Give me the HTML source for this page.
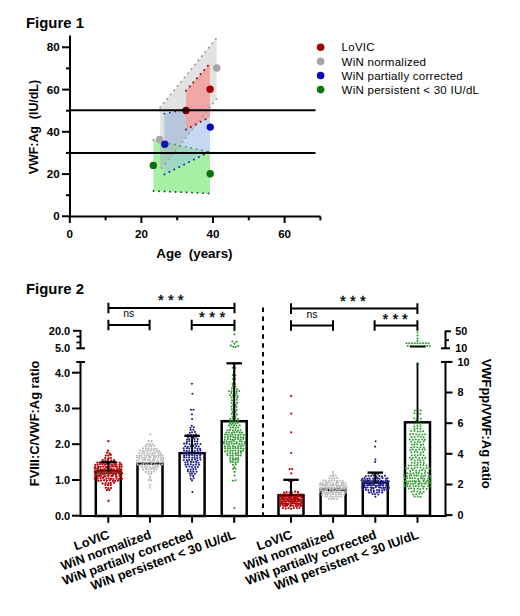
<!DOCTYPE html>
<html><head><meta charset="utf-8"><style>
html,body{margin:0;padding:0;background:#fff;}
svg{display:block;font-family:"Liberation Sans", sans-serif;}
</style></head><body>
<svg width="520" height="616" viewBox="0 0 520 616">
<rect width="520" height="616" fill="#fff"/>
<text x="26" y="28.2" font-size="14.9" font-weight="bold">Figure 1</text>
<polygon points="160.2,107.4 216.6,38 216.6,99 160.2,170" fill="#e2e2e2"/>
<polygon points="164.4,113.7 210,104.5 210,151.5 164.4,174.4" fill="#c6d8f4"/>
<clipPath id="cg"><polygon points="160.2,107.4 216.6,38 216.6,99 160.2,170"/></clipPath>
<polygon clip-path="url(#cg)" points="164.4,113.7 210,104.5 210,151.5 164.4,174.4" fill="#b8c6dc"/>
<line x1="164.4" y1="113.7" x2="210" y2="104.5" stroke="#1a2a8a" stroke-width="1.8" stroke-linecap="round" stroke-dasharray="0.1 5.4"/>
<polygon points="186,90.7 209.9,63.5 209.9,117 186,129.5" fill="#f5a0a0" fill-opacity="0.9"/>
<clipPath id="cb"><polygon points="164.4,113.7 210,104.5 210,151.5 164.4,174.4"/></clipPath>
<polygon points="153.5,139.9 210,152 210,193.4 153.5,191" fill="#a6f0a6"/>
<polygon clip-path="url(#cb)" points="153.5,139.9 210,152 210,193.4 153.5,191" fill="#9ed8c4"/>
<clipPath id="cg2"><polygon points="160.2,107.4 216.6,38 216.6,99 160.2,170"/></clipPath>
<polygon clip-path="url(#cg2)" points="153.5,139.9 210,152 210,193.4 153.5,191" fill="#a6c8b4" fill-opacity="0.8"/>
<line x1="160.2" y1="107.4" x2="216.6" y2="38" stroke="#959595" stroke-width="1.9" stroke-linecap="round" stroke-dasharray="0.1 5.4"/>
<line x1="216.6" y1="99" x2="160.2" y2="170" stroke="#a0a0a0" stroke-width="1.9" stroke-linecap="round" stroke-dasharray="0.1 5.4"/>
<line x1="186" y1="90.7" x2="209.9" y2="63.5" stroke="#7a1010" stroke-width="1.9" stroke-linecap="round" stroke-dasharray="0.1 5.4"/>
<line x1="186" y1="129.5" x2="209.9" y2="117" stroke="#7a1010" stroke-width="1.9" stroke-linecap="round" stroke-dasharray="0.1 5.4"/>
<line x1="164.4" y1="174.4" x2="210" y2="151.5" stroke="#1a2a8a" stroke-width="1.9" stroke-linecap="round" stroke-dasharray="0.1 5.4"/>
<line x1="153.5" y1="139.9" x2="210" y2="152" stroke="#6a8a6a" stroke-width="1.9" stroke-linecap="round" stroke-dasharray="0.1 5.4"/>
<line x1="153.5" y1="191" x2="210" y2="193.4" stroke="#1a5a1a" stroke-width="1.9" stroke-linecap="round" stroke-dasharray="0.1 5.4"/>
<circle cx="216.8" cy="68" r="3.7" fill="#a6a6a6"/>
<circle cx="159.5" cy="139.5" r="3.7" fill="#a6a6a6"/>
<circle cx="210.1" cy="89.2" r="3.7" fill="#a00000"/>
<circle cx="186" cy="110.5" r="3.7" fill="#7a0000"/>
<circle cx="164.8" cy="144.3" r="3.7" fill="#1414b4"/>
<circle cx="210.3" cy="127.1" r="3.7" fill="#0a0ab8"/>
<circle cx="153.3" cy="165.4" r="3.7" fill="#0a700a"/>
<circle cx="210.2" cy="173.8" r="3.7" fill="#0a700a"/>
<line x1="70" y1="110.3" x2="315.5" y2="110.3" stroke="#000" stroke-width="2"/>
<line x1="70" y1="153.1" x2="315.5" y2="153.1" stroke="#000" stroke-width="2"/>
<line x1="70" y1="35.4" x2="70" y2="217.3" stroke="#000" stroke-width="2"/>
<line x1="69" y1="216.5" x2="320.5" y2="216.5" stroke="#000" stroke-width="2"/>
<line x1="62" y1="216.3" x2="70" y2="216.3" stroke="#000" stroke-width="2"/>
<text x="59.6" y="220.4" font-size="11.6" font-weight="bold" text-anchor="end">0</text>
<line x1="66" y1="195.2" x2="70" y2="195.2" stroke="#000" stroke-width="2"/>
<line x1="62" y1="174.1" x2="70" y2="174.1" stroke="#000" stroke-width="2"/>
<text x="59.6" y="178.2" font-size="11.6" font-weight="bold" text-anchor="end">20</text>
<line x1="66" y1="152.9" x2="70" y2="152.9" stroke="#000" stroke-width="2"/>
<line x1="62" y1="131.8" x2="70" y2="131.8" stroke="#000" stroke-width="2"/>
<text x="59.6" y="135.9" font-size="11.6" font-weight="bold" text-anchor="end">40</text>
<line x1="66" y1="110.7" x2="70" y2="110.7" stroke="#000" stroke-width="2"/>
<line x1="62" y1="89.6" x2="70" y2="89.6" stroke="#000" stroke-width="2"/>
<text x="59.6" y="93.7" font-size="11.6" font-weight="bold" text-anchor="end">60</text>
<line x1="66" y1="68.4" x2="70" y2="68.4" stroke="#000" stroke-width="2"/>
<line x1="62" y1="47.3" x2="70" y2="47.3" stroke="#000" stroke-width="2"/>
<text x="59.6" y="51.4" font-size="11.6" font-weight="bold" text-anchor="end">80</text>
<line x1="69.8" y1="216.5" x2="69.8" y2="223" stroke="#000" stroke-width="2"/>
<text x="69.8" y="238.2" font-size="11.6" font-weight="bold" text-anchor="middle">0</text>
<line x1="105.6" y1="216.5" x2="105.6" y2="220.3" stroke="#000" stroke-width="2"/>
<line x1="141.4" y1="216.5" x2="141.4" y2="223" stroke="#000" stroke-width="2"/>
<text x="141.4" y="238.2" font-size="11.6" font-weight="bold" text-anchor="middle">20</text>
<line x1="177.2" y1="216.5" x2="177.2" y2="220.3" stroke="#000" stroke-width="2"/>
<line x1="213.0" y1="216.5" x2="213.0" y2="223" stroke="#000" stroke-width="2"/>
<text x="213.0" y="238.2" font-size="11.6" font-weight="bold" text-anchor="middle">40</text>
<line x1="248.8" y1="216.5" x2="248.8" y2="220.3" stroke="#000" stroke-width="2"/>
<line x1="284.6" y1="216.5" x2="284.6" y2="223" stroke="#000" stroke-width="2"/>
<text x="284.6" y="238.2" font-size="11.6" font-weight="bold" text-anchor="middle">60</text>
<line x1="320.4" y1="216.5" x2="320.4" y2="220.3" stroke="#000" stroke-width="2"/>
<text x="194.4" y="257.6" font-size="12.3" font-weight="bold" text-anchor="middle" textLength="76.2" lengthAdjust="spacingAndGlyphs" xml:space="preserve">Age  (years)</text>
<text transform="translate(38.3,127.1) rotate(-90)" font-size="12.2" font-weight="bold" text-anchor="middle" textLength="94.3" lengthAdjust="spacingAndGlyphs" xml:space="preserve">VWF:Ag  (IU/dL)</text>
<circle cx="320.6" cy="47.3" r="3.8" fill="#a00000"/>
<text x="341.6" y="51.4" font-size="11.5" letter-spacing="0.25">LoVIC</text>
<circle cx="320.6" cy="61.4" r="3.8" fill="#a6a6a6"/>
<text x="341.6" y="65.5" font-size="11.5" letter-spacing="0.25">WiN normalized</text>
<circle cx="320.6" cy="75.5" r="3.8" fill="#0a0ab8"/>
<text x="341.6" y="79.6" font-size="11.5" letter-spacing="0.25">WiN partially corrected</text>
<circle cx="320.6" cy="89.6" r="3.8" fill="#0a7a0a"/>
<text x="341.6" y="93.7" font-size="11.5" letter-spacing="0.25">WiN persistent &lt; 30 IU/dL</text>
<text x="26" y="293.8" font-size="14.9" font-weight="bold">Figure 2</text>
<line x1="263" y1="307.6" x2="263" y2="516" stroke="#000" stroke-width="2" stroke-dasharray="4.5 4.4"/>
<rect x="95.8" y="471.3" width="25.0" height="44.7" fill="none" stroke="#000" stroke-width="2.5"/>
<rect x="137.5" y="463.7" width="25.0" height="52.3" fill="none" stroke="#000" stroke-width="2.5"/>
<rect x="179.6" y="453.2" width="25.0" height="62.8" fill="none" stroke="#000" stroke-width="2.5"/>
<rect x="221.7" y="421.2" width="25.0" height="94.8" fill="none" stroke="#000" stroke-width="2.5"/>
<rect x="278.5" y="495.3" width="25.0" height="20.5" fill="none" stroke="#000" stroke-width="2.5"/>
<rect x="320.6" y="489.8" width="25.0" height="26.0" fill="none" stroke="#000" stroke-width="2.5"/>
<rect x="362.8" y="482.6" width="25.0" height="33.2" fill="none" stroke="#000" stroke-width="2.5"/>
<rect x="405.0" y="422.3" width="25.0" height="93.5" fill="none" stroke="#000" stroke-width="2.5"/>
<g fill="#b00808"><circle cx="108.3" cy="441.2" r="1.15"/><circle cx="108.1" cy="450.7" r="1.15"/><circle cx="107.0" cy="452.7" r="1.15"/><circle cx="109.6" cy="453.5" r="1.15"/><circle cx="105.8" cy="455.6" r="1.15"/><circle cx="108.4" cy="455.5" r="1.15"/><circle cx="110.8" cy="454.9" r="1.15"/><circle cx="105.2" cy="458.1" r="1.15"/><circle cx="108.4" cy="458.2" r="1.15"/><circle cx="110.8" cy="457.8" r="1.15"/><circle cx="102.7" cy="460.2" r="1.15"/><circle cx="105.4" cy="460.5" r="1.15"/><circle cx="108.0" cy="460.0" r="1.15"/><circle cx="111.3" cy="460.4" r="1.15"/><circle cx="114.1" cy="460.2" r="1.15"/><circle cx="97.3" cy="462.7" r="1.15"/><circle cx="99.8" cy="462.5" r="1.15"/><circle cx="103.0" cy="462.7" r="1.15"/><circle cx="105.4" cy="462.6" r="1.15"/><circle cx="108.6" cy="462.4" r="1.15"/><circle cx="111.2" cy="462.2" r="1.15"/><circle cx="114.0" cy="462.4" r="1.15"/><circle cx="116.4" cy="462.4" r="1.15"/><circle cx="119.8" cy="462.7" r="1.15"/><circle cx="95.3" cy="464.8" r="1.15"/><circle cx="97.6" cy="464.9" r="1.15"/><circle cx="100.0" cy="464.1" r="1.15"/><circle cx="102.4" cy="464.3" r="1.15"/><circle cx="104.9" cy="464.7" r="1.15"/><circle cx="107.1" cy="464.1" r="1.15"/><circle cx="109.6" cy="464.3" r="1.15"/><circle cx="112.1" cy="464.8" r="1.15"/><circle cx="114.6" cy="464.4" r="1.15"/><circle cx="116.3" cy="464.5" r="1.15"/><circle cx="119.6" cy="465.0" r="1.15"/><circle cx="121.3" cy="464.4" r="1.15"/><circle cx="95.0" cy="467.2" r="1.15"/><circle cx="97.8" cy="467.4" r="1.15"/><circle cx="98.7" cy="466.9" r="1.15"/><circle cx="100.8" cy="466.8" r="1.15"/><circle cx="103.4" cy="466.7" r="1.15"/><circle cx="106.1" cy="466.9" r="1.15"/><circle cx="106.4" cy="467.3" r="1.15"/><circle cx="109.2" cy="467.0" r="1.15"/><circle cx="111.5" cy="466.4" r="1.15"/><circle cx="113.0" cy="466.4" r="1.15"/><circle cx="115.2" cy="466.5" r="1.15"/><circle cx="117.1" cy="466.8" r="1.15"/><circle cx="119.6" cy="467.2" r="1.15"/><circle cx="121.8" cy="466.6" r="1.15"/><circle cx="94.9" cy="468.7" r="1.15"/><circle cx="97.3" cy="468.9" r="1.15"/><circle cx="98.4" cy="469.4" r="1.15"/><circle cx="100.7" cy="469.5" r="1.15"/><circle cx="102.5" cy="469.6" r="1.15"/><circle cx="104.2" cy="469.4" r="1.15"/><circle cx="105.4" cy="469.3" r="1.15"/><circle cx="107.6" cy="469.3" r="1.15"/><circle cx="109.8" cy="469.6" r="1.15"/><circle cx="111.1" cy="468.9" r="1.15"/><circle cx="113.2" cy="469.3" r="1.15"/><circle cx="114.2" cy="469.6" r="1.15"/><circle cx="117.0" cy="469.2" r="1.15"/><circle cx="117.8" cy="469.6" r="1.15"/><circle cx="119.6" cy="468.8" r="1.15"/><circle cx="121.3" cy="469.5" r="1.15"/><circle cx="94.7" cy="471.8" r="1.15"/><circle cx="97.0" cy="471.2" r="1.15"/><circle cx="98.8" cy="471.1" r="1.15"/><circle cx="99.9" cy="471.7" r="1.15"/><circle cx="102.3" cy="471.9" r="1.15"/><circle cx="104.0" cy="471.1" r="1.15"/><circle cx="104.9" cy="471.3" r="1.15"/><circle cx="107.0" cy="471.5" r="1.15"/><circle cx="108.6" cy="471.3" r="1.15"/><circle cx="110.3" cy="471.9" r="1.15"/><circle cx="111.8" cy="472.0" r="1.15"/><circle cx="113.3" cy="471.2" r="1.15"/><circle cx="114.8" cy="471.6" r="1.15"/><circle cx="116.7" cy="471.5" r="1.15"/><circle cx="118.3" cy="471.6" r="1.15"/><circle cx="119.9" cy="471.1" r="1.15"/><circle cx="121.2" cy="472.0" r="1.15"/><circle cx="95.3" cy="473.8" r="1.15"/><circle cx="96.6" cy="474.1" r="1.15"/><circle cx="98.8" cy="473.6" r="1.15"/><circle cx="100.1" cy="474.2" r="1.15"/><circle cx="101.9" cy="473.3" r="1.15"/><circle cx="102.9" cy="474.0" r="1.15"/><circle cx="104.8" cy="473.9" r="1.15"/><circle cx="106.7" cy="473.4" r="1.15"/><circle cx="108.0" cy="473.5" r="1.15"/><circle cx="109.9" cy="473.7" r="1.15"/><circle cx="111.5" cy="473.5" r="1.15"/><circle cx="113.1" cy="473.9" r="1.15"/><circle cx="115.2" cy="473.9" r="1.15"/><circle cx="116.4" cy="474.0" r="1.15"/><circle cx="118.8" cy="473.6" r="1.15"/><circle cx="120.1" cy="473.5" r="1.15"/><circle cx="122.1" cy="473.4" r="1.15"/><circle cx="95.4" cy="475.9" r="1.15"/><circle cx="97.4" cy="476.0" r="1.15"/><circle cx="99.1" cy="476.0" r="1.15"/><circle cx="100.9" cy="475.8" r="1.15"/><circle cx="103.9" cy="476.6" r="1.15"/><circle cx="105.0" cy="476.4" r="1.15"/><circle cx="107.5" cy="475.8" r="1.15"/><circle cx="108.5" cy="475.6" r="1.15"/><circle cx="111.4" cy="476.2" r="1.15"/><circle cx="112.7" cy="475.8" r="1.15"/><circle cx="116.1" cy="476.5" r="1.15"/><circle cx="116.5" cy="476.6" r="1.15"/><circle cx="119.6" cy="475.9" r="1.15"/><circle cx="121.3" cy="476.0" r="1.15"/><circle cx="94.8" cy="478.6" r="1.15"/><circle cx="97.8" cy="478.4" r="1.15"/><circle cx="100.6" cy="478.1" r="1.15"/><circle cx="102.9" cy="477.9" r="1.15"/><circle cx="106.3" cy="478.6" r="1.15"/><circle cx="108.7" cy="478.3" r="1.15"/><circle cx="111.0" cy="478.9" r="1.15"/><circle cx="113.4" cy="478.8" r="1.15"/><circle cx="116.6" cy="478.7" r="1.15"/><circle cx="119.1" cy="478.8" r="1.15"/><circle cx="121.8" cy="478.7" r="1.15"/><circle cx="98.4" cy="480.9" r="1.15"/><circle cx="101.0" cy="480.5" r="1.15"/><circle cx="104.1" cy="480.2" r="1.15"/><circle cx="106.8" cy="480.8" r="1.15"/><circle cx="109.8" cy="480.4" r="1.15"/><circle cx="112.8" cy="480.9" r="1.15"/><circle cx="115.2" cy="480.9" r="1.15"/><circle cx="118.1" cy="480.7" r="1.15"/><circle cx="102.6" cy="483.5" r="1.15"/><circle cx="105.6" cy="483.2" r="1.15"/><circle cx="108.5" cy="483.5" r="1.15"/><circle cx="110.8" cy="483.1" r="1.15"/><circle cx="114.1" cy="482.8" r="1.15"/><circle cx="105.4" cy="484.9" r="1.15"/><circle cx="108.1" cy="485.2" r="1.15"/><circle cx="110.8" cy="485.1" r="1.15"/><circle cx="105.8" cy="487.7" r="1.15"/><circle cx="108.3" cy="488.1" r="1.15"/><circle cx="111.1" cy="488.1" r="1.15"/><circle cx="107.0" cy="490.2" r="1.15"/><circle cx="109.4" cy="490.0" r="1.15"/><circle cx="108.5" cy="500.9" r="1.15"/></g>
<g fill="#bababa"><circle cx="150.3" cy="434.6" r="1.1"/><circle cx="148.6" cy="441.2" r="1.1"/><circle cx="151.6" cy="441.2" r="1.1"/><circle cx="147.0" cy="444.0" r="1.1"/><circle cx="150.0" cy="444.1" r="1.1"/><circle cx="152.6" cy="444.2" r="1.1"/><circle cx="145.7" cy="445.9" r="1.1"/><circle cx="148.8" cy="445.8" r="1.1"/><circle cx="151.2" cy="446.4" r="1.1"/><circle cx="154.2" cy="446.0" r="1.1"/><circle cx="143.0" cy="448.4" r="1.1"/><circle cx="146.1" cy="448.4" r="1.1"/><circle cx="148.4" cy="448.7" r="1.1"/><circle cx="151.4" cy="448.9" r="1.1"/><circle cx="154.4" cy="448.9" r="1.1"/><circle cx="156.7" cy="448.8" r="1.1"/><circle cx="140.4" cy="450.6" r="1.1"/><circle cx="143.2" cy="451.2" r="1.1"/><circle cx="146.2" cy="450.5" r="1.1"/><circle cx="148.6" cy="450.7" r="1.1"/><circle cx="151.3" cy="450.7" r="1.1"/><circle cx="154.0" cy="450.5" r="1.1"/><circle cx="156.8" cy="451.1" r="1.1"/><circle cx="159.5" cy="451.1" r="1.1"/><circle cx="139.2" cy="452.8" r="1.1"/><circle cx="142.1" cy="453.5" r="1.1"/><circle cx="144.4" cy="452.6" r="1.1"/><circle cx="147.3" cy="453.1" r="1.1"/><circle cx="150.0" cy="453.6" r="1.1"/><circle cx="152.8" cy="453.4" r="1.1"/><circle cx="155.1" cy="453.1" r="1.1"/><circle cx="158.3" cy="452.7" r="1.1"/><circle cx="160.5" cy="453.3" r="1.1"/><circle cx="136.8" cy="455.5" r="1.1"/><circle cx="139.4" cy="455.5" r="1.1"/><circle cx="141.2" cy="455.7" r="1.1"/><circle cx="144.4" cy="455.3" r="1.1"/><circle cx="146.9" cy="455.6" r="1.1"/><circle cx="148.9" cy="455.6" r="1.1"/><circle cx="151.8" cy="455.3" r="1.1"/><circle cx="154.0" cy="455.8" r="1.1"/><circle cx="156.5" cy="455.8" r="1.1"/><circle cx="158.8" cy="455.4" r="1.1"/><circle cx="161.1" cy="455.3" r="1.1"/><circle cx="162.5" cy="455.6" r="1.1"/><circle cx="137.2" cy="457.4" r="1.1"/><circle cx="139.1" cy="457.5" r="1.1"/><circle cx="141.5" cy="457.5" r="1.1"/><circle cx="144.0" cy="458.0" r="1.1"/><circle cx="145.7" cy="457.7" r="1.1"/><circle cx="149.4" cy="457.2" r="1.1"/><circle cx="150.5" cy="457.4" r="1.1"/><circle cx="153.6" cy="457.8" r="1.1"/><circle cx="155.3" cy="457.5" r="1.1"/><circle cx="158.4" cy="457.5" r="1.1"/><circle cx="161.1" cy="457.7" r="1.1"/><circle cx="163.3" cy="458.1" r="1.1"/><circle cx="136.9" cy="460.5" r="1.1"/><circle cx="139.3" cy="459.5" r="1.1"/><circle cx="142.9" cy="459.9" r="1.1"/><circle cx="144.8" cy="459.8" r="1.1"/><circle cx="147.9" cy="459.7" r="1.1"/><circle cx="149.6" cy="459.9" r="1.1"/><circle cx="153.1" cy="460.1" r="1.1"/><circle cx="154.5" cy="459.8" r="1.1"/><circle cx="158.1" cy="460.0" r="1.1"/><circle cx="161.1" cy="459.8" r="1.1"/><circle cx="162.6" cy="460.3" r="1.1"/><circle cx="137.0" cy="462.6" r="1.1"/><circle cx="139.3" cy="462.1" r="1.1"/><circle cx="141.9" cy="462.3" r="1.1"/><circle cx="145.3" cy="462.4" r="1.1"/><circle cx="147.4" cy="462.6" r="1.1"/><circle cx="150.4" cy="461.9" r="1.1"/><circle cx="152.5" cy="462.3" r="1.1"/><circle cx="154.8" cy="462.6" r="1.1"/><circle cx="157.4" cy="461.9" r="1.1"/><circle cx="160.2" cy="462.5" r="1.1"/><circle cx="163.1" cy="461.9" r="1.1"/><circle cx="137.8" cy="464.6" r="1.1"/><circle cx="140.9" cy="464.9" r="1.1"/><circle cx="143.4" cy="464.1" r="1.1"/><circle cx="145.9" cy="464.8" r="1.1"/><circle cx="148.5" cy="464.7" r="1.1"/><circle cx="151.3" cy="464.1" r="1.1"/><circle cx="154.4" cy="464.9" r="1.1"/><circle cx="156.5" cy="464.7" r="1.1"/><circle cx="159.3" cy="464.5" r="1.1"/><circle cx="162.2" cy="464.4" r="1.1"/><circle cx="141.8" cy="466.8" r="1.1"/><circle cx="144.7" cy="466.7" r="1.1"/><circle cx="147.1" cy="467.1" r="1.1"/><circle cx="149.9" cy="467.3" r="1.1"/><circle cx="152.7" cy="467.1" r="1.1"/><circle cx="155.3" cy="467.2" r="1.1"/><circle cx="157.8" cy="466.5" r="1.1"/><circle cx="143.0" cy="469.4" r="1.1"/><circle cx="146.1" cy="468.9" r="1.1"/><circle cx="148.6" cy="469.5" r="1.1"/><circle cx="151.4" cy="468.8" r="1.1"/><circle cx="153.9" cy="468.9" r="1.1"/><circle cx="156.5" cy="469.1" r="1.1"/><circle cx="145.7" cy="471.9" r="1.1"/><circle cx="148.6" cy="471.5" r="1.1"/><circle cx="151.5" cy="471.8" r="1.1"/><circle cx="154.3" cy="471.4" r="1.1"/><circle cx="148.5" cy="473.7" r="1.1"/><circle cx="151.0" cy="473.7" r="1.1"/><circle cx="150.1" cy="476.6" r="1.1"/><circle cx="150.2" cy="478.6" r="1.1"/><circle cx="148.7" cy="480.2" r="1.1"/><circle cx="151.2" cy="480.5" r="1.1"/><circle cx="150.1" cy="484.9" r="1.1"/><circle cx="149.9" cy="487.6" r="1.1"/></g>
<g fill="#1c1c84"><circle cx="191.9" cy="383.7" r="1.05"/><circle cx="192.4" cy="393.8" r="1.05"/><circle cx="190.9" cy="409.8" r="1.05"/><circle cx="193.4" cy="409.7" r="1.05"/><circle cx="191.9" cy="414.2" r="1.05"/><circle cx="192.1" cy="419.0" r="1.05"/><circle cx="191.8" cy="425.8" r="1.05"/><circle cx="190.5" cy="427.8" r="1.05"/><circle cx="193.8" cy="427.3" r="1.05"/><circle cx="190.6" cy="429.9" r="1.05"/><circle cx="193.3" cy="429.7" r="1.05"/><circle cx="189.7" cy="432.7" r="1.05"/><circle cx="192.0" cy="432.3" r="1.05"/><circle cx="194.9" cy="431.9" r="1.05"/><circle cx="187.7" cy="435.1" r="1.05"/><circle cx="190.6" cy="434.7" r="1.05"/><circle cx="193.8" cy="435.2" r="1.05"/><circle cx="196.1" cy="434.4" r="1.05"/><circle cx="187.9" cy="437.4" r="1.05"/><circle cx="191.0" cy="436.7" r="1.05"/><circle cx="193.7" cy="436.9" r="1.05"/><circle cx="196.1" cy="436.7" r="1.05"/><circle cx="187.0" cy="439.8" r="1.05"/><circle cx="189.2" cy="439.4" r="1.05"/><circle cx="191.9" cy="439.7" r="1.05"/><circle cx="194.5" cy="438.9" r="1.05"/><circle cx="197.7" cy="439.1" r="1.05"/><circle cx="187.0" cy="442.0" r="1.05"/><circle cx="189.5" cy="441.2" r="1.05"/><circle cx="192.2" cy="442.0" r="1.05"/><circle cx="194.8" cy="441.2" r="1.05"/><circle cx="197.3" cy="441.4" r="1.05"/><circle cx="184.1" cy="443.6" r="1.05"/><circle cx="186.5" cy="443.6" r="1.05"/><circle cx="189.5" cy="444.2" r="1.05"/><circle cx="192.0" cy="444.1" r="1.05"/><circle cx="195.1" cy="444.0" r="1.05"/><circle cx="197.3" cy="443.7" r="1.05"/><circle cx="200.5" cy="444.1" r="1.05"/><circle cx="185.2" cy="446.3" r="1.05"/><circle cx="187.8" cy="446.7" r="1.05"/><circle cx="190.7" cy="446.2" r="1.05"/><circle cx="193.5" cy="445.7" r="1.05"/><circle cx="196.2" cy="446.0" r="1.05"/><circle cx="198.7" cy="446.5" r="1.05"/><circle cx="183.7" cy="448.3" r="1.05"/><circle cx="186.9" cy="448.2" r="1.05"/><circle cx="189.2" cy="448.5" r="1.05"/><circle cx="191.9" cy="448.9" r="1.05"/><circle cx="195.1" cy="448.0" r="1.05"/><circle cx="197.5" cy="448.8" r="1.05"/><circle cx="200.1" cy="448.9" r="1.05"/><circle cx="184.0" cy="450.5" r="1.05"/><circle cx="186.7" cy="450.9" r="1.05"/><circle cx="189.3" cy="451.0" r="1.05"/><circle cx="192.3" cy="450.8" r="1.05"/><circle cx="194.8" cy="451.1" r="1.05"/><circle cx="197.6" cy="450.8" r="1.05"/><circle cx="200.5" cy="450.5" r="1.05"/><circle cx="182.8" cy="452.8" r="1.05"/><circle cx="185.4" cy="452.8" r="1.05"/><circle cx="188.0" cy="453.4" r="1.05"/><circle cx="191.0" cy="453.4" r="1.05"/><circle cx="193.3" cy="453.1" r="1.05"/><circle cx="196.0" cy="453.2" r="1.05"/><circle cx="198.8" cy="452.6" r="1.05"/><circle cx="201.6" cy="453.3" r="1.05"/><circle cx="184.1" cy="455.8" r="1.05"/><circle cx="186.5" cy="455.1" r="1.05"/><circle cx="189.1" cy="455.4" r="1.05"/><circle cx="192.1" cy="455.3" r="1.05"/><circle cx="194.6" cy="455.7" r="1.05"/><circle cx="197.2" cy="455.8" r="1.05"/><circle cx="200.2" cy="455.4" r="1.05"/><circle cx="184.2" cy="457.4" r="1.05"/><circle cx="186.5" cy="457.5" r="1.05"/><circle cx="189.1" cy="457.5" r="1.05"/><circle cx="192.2" cy="457.7" r="1.05"/><circle cx="194.6" cy="457.8" r="1.05"/><circle cx="197.2" cy="458.0" r="1.05"/><circle cx="200.0" cy="457.5" r="1.05"/><circle cx="183.8" cy="460.2" r="1.05"/><circle cx="186.9" cy="460.3" r="1.05"/><circle cx="189.1" cy="459.9" r="1.05"/><circle cx="192.0" cy="459.7" r="1.05"/><circle cx="195.1" cy="459.5" r="1.05"/><circle cx="197.5" cy="460.3" r="1.05"/><circle cx="200.5" cy="459.6" r="1.05"/><circle cx="185.3" cy="462.5" r="1.05"/><circle cx="187.7" cy="462.0" r="1.05"/><circle cx="191.0" cy="461.9" r="1.05"/><circle cx="193.4" cy="462.1" r="1.05"/><circle cx="196.1" cy="461.9" r="1.05"/><circle cx="198.5" cy="462.8" r="1.05"/><circle cx="185.5" cy="464.8" r="1.05"/><circle cx="187.9" cy="464.4" r="1.05"/><circle cx="190.8" cy="464.3" r="1.05"/><circle cx="193.4" cy="465.0" r="1.05"/><circle cx="196.1" cy="464.4" r="1.05"/><circle cx="199.2" cy="464.7" r="1.05"/><circle cx="186.4" cy="466.8" r="1.05"/><circle cx="189.5" cy="466.5" r="1.05"/><circle cx="192.0" cy="467.1" r="1.05"/><circle cx="195.1" cy="467.0" r="1.05"/><circle cx="197.8" cy="466.9" r="1.05"/><circle cx="188.0" cy="469.5" r="1.05"/><circle cx="190.7" cy="469.5" r="1.05"/><circle cx="193.3" cy="469.0" r="1.05"/><circle cx="195.9" cy="469.2" r="1.05"/><circle cx="187.8" cy="471.2" r="1.05"/><circle cx="190.6" cy="471.5" r="1.05"/><circle cx="193.3" cy="471.4" r="1.05"/><circle cx="196.5" cy="471.7" r="1.05"/><circle cx="189.7" cy="473.5" r="1.05"/><circle cx="192.0" cy="473.4" r="1.05"/><circle cx="194.9" cy="473.7" r="1.05"/><circle cx="190.6" cy="475.6" r="1.05"/><circle cx="193.2" cy="475.9" r="1.05"/><circle cx="190.7" cy="478.8" r="1.05"/><circle cx="193.6" cy="478.2" r="1.05"/><circle cx="192.0" cy="480.4" r="1.05"/><circle cx="192.4" cy="492.1" r="1.05"/></g>
<g fill="#2f9a2f"><circle cx="234.1" cy="365.9" r="1.05"/><circle cx="232.7" cy="367.7" r="1.05"/><circle cx="235.2" cy="368.1" r="1.05"/><circle cx="234.5" cy="370.8" r="1.05"/><circle cx="233.9" cy="372.8" r="1.05"/><circle cx="232.8" cy="375.0" r="1.05"/><circle cx="235.4" cy="375.3" r="1.05"/><circle cx="234.5" cy="376.7" r="1.05"/><circle cx="233.0" cy="379.1" r="1.05"/><circle cx="235.2" cy="379.3" r="1.05"/><circle cx="234.4" cy="382.3" r="1.05"/><circle cx="232.6" cy="383.9" r="1.05"/><circle cx="235.2" cy="384.1" r="1.05"/><circle cx="232.9" cy="386.3" r="1.05"/><circle cx="235.4" cy="386.7" r="1.05"/><circle cx="231.8" cy="388.5" r="1.05"/><circle cx="234.1" cy="388.8" r="1.05"/><circle cx="237.0" cy="389.2" r="1.05"/><circle cx="228.9" cy="391.2" r="1.05"/><circle cx="231.6" cy="391.3" r="1.05"/><circle cx="234.0" cy="390.7" r="1.05"/><circle cx="236.5" cy="391.4" r="1.05"/><circle cx="239.2" cy="391.0" r="1.05"/><circle cx="231.3" cy="393.1" r="1.05"/><circle cx="233.9" cy="393.4" r="1.05"/><circle cx="236.6" cy="393.4" r="1.05"/><circle cx="230.1" cy="395.3" r="1.05"/><circle cx="232.9" cy="395.5" r="1.05"/><circle cx="235.3" cy="395.2" r="1.05"/><circle cx="237.8" cy="396.0" r="1.05"/><circle cx="231.5" cy="397.5" r="1.05"/><circle cx="234.0" cy="397.9" r="1.05"/><circle cx="237.1" cy="397.6" r="1.05"/><circle cx="231.9" cy="400.2" r="1.05"/><circle cx="234.1" cy="400.5" r="1.05"/><circle cx="236.7" cy="399.8" r="1.05"/><circle cx="231.6" cy="402.7" r="1.05"/><circle cx="234.3" cy="402.3" r="1.05"/><circle cx="237.1" cy="402.9" r="1.05"/><circle cx="233.2" cy="404.7" r="1.05"/><circle cx="235.7" cy="405.0" r="1.05"/><circle cx="231.4" cy="406.6" r="1.05"/><circle cx="234.0" cy="406.7" r="1.05"/><circle cx="236.5" cy="407.0" r="1.05"/><circle cx="231.8" cy="409.2" r="1.05"/><circle cx="234.2" cy="408.9" r="1.05"/><circle cx="236.6" cy="409.9" r="1.05"/><circle cx="232.6" cy="411.7" r="1.05"/><circle cx="235.7" cy="412.0" r="1.05"/><circle cx="231.8" cy="413.9" r="1.05"/><circle cx="234.4" cy="414.3" r="1.05"/><circle cx="237.0" cy="414.5" r="1.05"/><circle cx="232.6" cy="416.8" r="1.05"/><circle cx="235.4" cy="416.5" r="1.05"/><circle cx="230.1" cy="419.0" r="1.05"/><circle cx="232.6" cy="418.7" r="1.05"/><circle cx="235.3" cy="418.5" r="1.05"/><circle cx="238.0" cy="418.8" r="1.05"/><circle cx="230.5" cy="420.8" r="1.05"/><circle cx="233.0" cy="420.8" r="1.05"/><circle cx="235.3" cy="421.3" r="1.05"/><circle cx="238.0" cy="420.5" r="1.05"/><circle cx="230.2" cy="423.4" r="1.05"/><circle cx="232.7" cy="423.4" r="1.05"/><circle cx="235.5" cy="423.4" r="1.05"/><circle cx="237.9" cy="422.8" r="1.05"/><circle cx="228.8" cy="425.4" r="1.05"/><circle cx="231.6" cy="425.0" r="1.05"/><circle cx="234.2" cy="425.4" r="1.05"/><circle cx="236.7" cy="425.5" r="1.05"/><circle cx="239.7" cy="425.2" r="1.05"/><circle cx="230.6" cy="427.6" r="1.05"/><circle cx="233.1" cy="427.4" r="1.05"/><circle cx="235.8" cy="427.7" r="1.05"/><circle cx="238.4" cy="427.5" r="1.05"/><circle cx="227.6" cy="430.3" r="1.05"/><circle cx="230.1" cy="429.9" r="1.05"/><circle cx="233.0" cy="430.5" r="1.05"/><circle cx="235.4" cy="429.8" r="1.05"/><circle cx="238.0" cy="430.6" r="1.05"/><circle cx="240.5" cy="430.2" r="1.05"/><circle cx="226.3" cy="432.5" r="1.05"/><circle cx="228.8" cy="432.5" r="1.05"/><circle cx="231.9" cy="432.8" r="1.05"/><circle cx="234.3" cy="432.4" r="1.05"/><circle cx="236.8" cy="432.0" r="1.05"/><circle cx="239.6" cy="432.6" r="1.05"/><circle cx="242.0" cy="432.6" r="1.05"/><circle cx="225.0" cy="434.6" r="1.05"/><circle cx="227.5" cy="434.8" r="1.05"/><circle cx="230.4" cy="434.7" r="1.05"/><circle cx="232.6" cy="434.8" r="1.05"/><circle cx="235.5" cy="434.8" r="1.05"/><circle cx="238.2" cy="435.1" r="1.05"/><circle cx="240.5" cy="434.7" r="1.05"/><circle cx="243.6" cy="434.9" r="1.05"/><circle cx="225.0" cy="437.2" r="1.05"/><circle cx="228.0" cy="436.9" r="1.05"/><circle cx="230.6" cy="436.6" r="1.05"/><circle cx="233.2" cy="437.0" r="1.05"/><circle cx="235.3" cy="437.3" r="1.05"/><circle cx="238.2" cy="437.4" r="1.05"/><circle cx="240.9" cy="437.3" r="1.05"/><circle cx="243.3" cy="437.5" r="1.05"/><circle cx="224.8" cy="439.7" r="1.05"/><circle cx="227.8" cy="439.1" r="1.05"/><circle cx="230.5" cy="439.3" r="1.05"/><circle cx="232.9" cy="439.7" r="1.05"/><circle cx="235.3" cy="439.1" r="1.05"/><circle cx="238.2" cy="438.9" r="1.05"/><circle cx="240.7" cy="439.6" r="1.05"/><circle cx="243.3" cy="439.0" r="1.05"/><circle cx="224.0" cy="442.0" r="1.05"/><circle cx="226.6" cy="441.6" r="1.05"/><circle cx="229.3" cy="441.9" r="1.05"/><circle cx="231.4" cy="441.5" r="1.05"/><circle cx="233.9" cy="441.1" r="1.05"/><circle cx="236.7" cy="442.0" r="1.05"/><circle cx="239.6" cy="441.2" r="1.05"/><circle cx="241.8" cy="441.5" r="1.05"/><circle cx="244.8" cy="441.7" r="1.05"/><circle cx="224.1" cy="443.5" r="1.05"/><circle cx="226.7" cy="443.6" r="1.05"/><circle cx="229.1" cy="444.3" r="1.05"/><circle cx="231.8" cy="443.6" r="1.05"/><circle cx="234.3" cy="443.8" r="1.05"/><circle cx="236.5" cy="443.7" r="1.05"/><circle cx="239.3" cy="444.0" r="1.05"/><circle cx="241.8" cy="444.0" r="1.05"/><circle cx="244.7" cy="443.6" r="1.05"/><circle cx="224.8" cy="446.4" r="1.05"/><circle cx="227.7" cy="445.8" r="1.05"/><circle cx="230.0" cy="446.6" r="1.05"/><circle cx="233.0" cy="446.1" r="1.05"/><circle cx="235.3" cy="446.7" r="1.05"/><circle cx="238.2" cy="446.4" r="1.05"/><circle cx="240.6" cy="446.0" r="1.05"/><circle cx="243.2" cy="445.8" r="1.05"/><circle cx="225.2" cy="448.4" r="1.05"/><circle cx="227.9" cy="448.4" r="1.05"/><circle cx="230.3" cy="448.5" r="1.05"/><circle cx="233.2" cy="448.3" r="1.05"/><circle cx="235.6" cy="448.2" r="1.05"/><circle cx="238.2" cy="448.3" r="1.05"/><circle cx="241.0" cy="448.3" r="1.05"/><circle cx="243.5" cy="448.7" r="1.05"/><circle cx="225.1" cy="451.2" r="1.05"/><circle cx="227.6" cy="451.0" r="1.05"/><circle cx="230.4" cy="450.7" r="1.05"/><circle cx="232.6" cy="450.7" r="1.05"/><circle cx="235.3" cy="450.7" r="1.05"/><circle cx="238.4" cy="450.6" r="1.05"/><circle cx="240.8" cy="451.0" r="1.05"/><circle cx="243.1" cy="450.7" r="1.05"/><circle cx="227.4" cy="453.5" r="1.05"/><circle cx="230.1" cy="453.0" r="1.05"/><circle cx="232.8" cy="453.4" r="1.05"/><circle cx="235.7" cy="453.2" r="1.05"/><circle cx="238.1" cy="452.7" r="1.05"/><circle cx="241.0" cy="452.7" r="1.05"/><circle cx="227.6" cy="455.3" r="1.05"/><circle cx="230.5" cy="455.6" r="1.05"/><circle cx="232.8" cy="455.8" r="1.05"/><circle cx="235.8" cy="454.9" r="1.05"/><circle cx="238.2" cy="455.4" r="1.05"/><circle cx="240.6" cy="455.4" r="1.05"/><circle cx="230.2" cy="457.9" r="1.05"/><circle cx="233.0" cy="458.2" r="1.05"/><circle cx="235.8" cy="458.2" r="1.05"/><circle cx="238.0" cy="458.0" r="1.05"/><circle cx="230.4" cy="460.2" r="1.05"/><circle cx="233.2" cy="459.6" r="1.05"/><circle cx="235.5" cy="459.9" r="1.05"/><circle cx="238.2" cy="459.7" r="1.05"/><circle cx="230.6" cy="462.0" r="1.05"/><circle cx="232.8" cy="461.9" r="1.05"/><circle cx="235.4" cy="462.5" r="1.05"/><circle cx="237.8" cy="462.0" r="1.05"/><circle cx="233.0" cy="464.7" r="1.05"/><circle cx="235.7" cy="464.4" r="1.05"/><circle cx="234.4" cy="467.1" r="1.05"/><circle cx="233.1" cy="468.8" r="1.05"/><circle cx="235.5" cy="468.7" r="1.05"/><circle cx="234.5" cy="471.9" r="1.05"/><circle cx="234.5" cy="475.6" r="1.05"/><circle cx="232.8" cy="480.7" r="1.05"/><circle cx="235.5" cy="480.3" r="1.05"/><circle cx="234.4" cy="508.1" r="1.05"/></g>
<g fill="#2f9a2f"><circle cx="232.3" cy="341.5" r="1.1"/><circle cx="234.4" cy="343.6" r="1.1"/><circle cx="236.6" cy="341.8" r="1.1"/><circle cx="230.8" cy="345.5" r="1.1"/><circle cx="238.2" cy="346" r="1.1"/><circle cx="233.3" cy="346.8" r="1.1"/><circle cx="235.6" cy="347" r="1.1"/><circle cx="234.4" cy="334.3" r="1.1"/><circle cx="234.3" cy="330.6" r="1.1"/></g>
<g fill="#b00808"><circle cx="291.1" cy="396.1" r="1.1"/><circle cx="291.3" cy="413.6" r="1.1"/><circle cx="291.2" cy="432.3" r="1.1"/><circle cx="291.2" cy="453.0" r="1.1"/><circle cx="289.6" cy="469.1" r="1.1"/><circle cx="292.1" cy="469.0" r="1.1"/><circle cx="291.2" cy="473.4" r="1.1"/><circle cx="289.3" cy="481.0" r="1.1"/><circle cx="292.5" cy="480.7" r="1.1"/><circle cx="290.7" cy="487.2" r="1.1"/><circle cx="290.9" cy="490.4" r="1.1"/><circle cx="284.0" cy="492.6" r="1.1"/><circle cx="286.6" cy="492.1" r="1.1"/><circle cx="289.6" cy="492.5" r="1.1"/><circle cx="292.1" cy="492.6" r="1.1"/><circle cx="295.2" cy="491.7" r="1.1"/><circle cx="298.0" cy="492.1" r="1.1"/><circle cx="280.6" cy="494.5" r="1.1"/><circle cx="282.4" cy="494.8" r="1.1"/><circle cx="284.9" cy="494.2" r="1.1"/><circle cx="287.0" cy="494.3" r="1.1"/><circle cx="289.4" cy="494.6" r="1.1"/><circle cx="292.1" cy="494.6" r="1.1"/><circle cx="294.7" cy="494.6" r="1.1"/><circle cx="297.7" cy="494.3" r="1.1"/><circle cx="299.4" cy="494.3" r="1.1"/><circle cx="302.3" cy="494.3" r="1.1"/><circle cx="280.1" cy="496.7" r="1.1"/><circle cx="281.3" cy="496.9" r="1.1"/><circle cx="283.1" cy="497.2" r="1.1"/><circle cx="283.6" cy="496.5" r="1.1"/><circle cx="284.6" cy="496.6" r="1.1"/><circle cx="285.8" cy="497.0" r="1.1"/><circle cx="287.4" cy="496.6" r="1.1"/><circle cx="288.9" cy="497.1" r="1.1"/><circle cx="289.5" cy="497.1" r="1.1"/><circle cx="290.4" cy="496.8" r="1.1"/><circle cx="291.8" cy="497.1" r="1.1"/><circle cx="294.0" cy="497.2" r="1.1"/><circle cx="294.6" cy="497.3" r="1.1"/><circle cx="295.8" cy="497.2" r="1.1"/><circle cx="297.0" cy="496.5" r="1.1"/><circle cx="298.0" cy="496.6" r="1.1"/><circle cx="299.1" cy="496.4" r="1.1"/><circle cx="300.5" cy="496.6" r="1.1"/><circle cx="301.9" cy="497.2" r="1.1"/><circle cx="280.2" cy="499.5" r="1.1"/><circle cx="281.1" cy="499.3" r="1.1"/><circle cx="282.1" cy="499.5" r="1.1"/><circle cx="282.8" cy="498.7" r="1.1"/><circle cx="284.0" cy="499.4" r="1.1"/><circle cx="284.5" cy="499.0" r="1.1"/><circle cx="286.4" cy="499.1" r="1.1"/><circle cx="286.6" cy="498.8" r="1.1"/><circle cx="287.5" cy="499.5" r="1.1"/><circle cx="288.2" cy="499.5" r="1.1"/><circle cx="289.4" cy="498.7" r="1.1"/><circle cx="290.6" cy="499.5" r="1.1"/><circle cx="291.4" cy="498.7" r="1.1"/><circle cx="292.2" cy="499.6" r="1.1"/><circle cx="293.9" cy="499.4" r="1.1"/><circle cx="293.9" cy="499.1" r="1.1"/><circle cx="295.1" cy="499.0" r="1.1"/><circle cx="295.9" cy="499.3" r="1.1"/><circle cx="297.1" cy="498.7" r="1.1"/><circle cx="298.2" cy="499.6" r="1.1"/><circle cx="298.7" cy="498.9" r="1.1"/><circle cx="300.2" cy="499.5" r="1.1"/><circle cx="301.9" cy="499.5" r="1.1"/><circle cx="302.8" cy="498.6" r="1.1"/><circle cx="280.1" cy="501.6" r="1.1"/><circle cx="281.2" cy="501.8" r="1.1"/><circle cx="281.6" cy="501.9" r="1.1"/><circle cx="282.1" cy="501.8" r="1.1"/><circle cx="283.6" cy="500.9" r="1.1"/><circle cx="285.2" cy="501.4" r="1.1"/><circle cx="286.1" cy="501.7" r="1.1"/><circle cx="285.8" cy="501.7" r="1.1"/><circle cx="288.4" cy="501.3" r="1.1"/><circle cx="288.3" cy="500.9" r="1.1"/><circle cx="289.5" cy="501.5" r="1.1"/><circle cx="290.3" cy="501.6" r="1.1"/><circle cx="291.1" cy="501.8" r="1.1"/><circle cx="291.8" cy="501.2" r="1.1"/><circle cx="293.7" cy="501.2" r="1.1"/><circle cx="294.3" cy="501.2" r="1.1"/><circle cx="295.0" cy="501.8" r="1.1"/><circle cx="295.7" cy="501.2" r="1.1"/><circle cx="297.4" cy="501.6" r="1.1"/><circle cx="298.4" cy="501.0" r="1.1"/><circle cx="299.0" cy="501.1" r="1.1"/><circle cx="300.6" cy="501.3" r="1.1"/><circle cx="301.4" cy="501.9" r="1.1"/><circle cx="301.5" cy="501.7" r="1.1"/><circle cx="280.0" cy="504.0" r="1.1"/><circle cx="280.8" cy="503.8" r="1.1"/><circle cx="282.3" cy="504.0" r="1.1"/><circle cx="283.0" cy="503.6" r="1.1"/><circle cx="284.6" cy="503.3" r="1.1"/><circle cx="285.7" cy="504.2" r="1.1"/><circle cx="286.7" cy="504.1" r="1.1"/><circle cx="287.7" cy="504.1" r="1.1"/><circle cx="288.1" cy="503.9" r="1.1"/><circle cx="290.4" cy="504.1" r="1.1"/><circle cx="290.8" cy="503.3" r="1.1"/><circle cx="292.5" cy="503.3" r="1.1"/><circle cx="292.8" cy="503.2" r="1.1"/><circle cx="293.8" cy="503.3" r="1.1"/><circle cx="295.5" cy="503.8" r="1.1"/><circle cx="296.7" cy="504.1" r="1.1"/><circle cx="297.0" cy="503.3" r="1.1"/><circle cx="298.9" cy="504.1" r="1.1"/><circle cx="299.4" cy="503.5" r="1.1"/><circle cx="300.7" cy="504.0" r="1.1"/><circle cx="302.3" cy="503.8" r="1.1"/><circle cx="280.2" cy="505.7" r="1.1"/><circle cx="282.9" cy="505.5" r="1.1"/><circle cx="284.1" cy="505.6" r="1.1"/><circle cx="285.4" cy="506.2" r="1.1"/><circle cx="287.2" cy="505.7" r="1.1"/><circle cx="290.2" cy="506.2" r="1.1"/><circle cx="291.6" cy="505.5" r="1.1"/><circle cx="293.3" cy="505.8" r="1.1"/><circle cx="295.9" cy="506.0" r="1.1"/><circle cx="297.9" cy="505.9" r="1.1"/><circle cx="300.4" cy="505.9" r="1.1"/><circle cx="302.0" cy="505.8" r="1.1"/><circle cx="282.9" cy="508.0" r="1.1"/><circle cx="285.7" cy="508.7" r="1.1"/><circle cx="288.5" cy="508.0" r="1.1"/><circle cx="291.0" cy="508.8" r="1.1"/><circle cx="293.7" cy="508.0" r="1.1"/><circle cx="296.8" cy="508.0" r="1.1"/><circle cx="299.5" cy="508.0" r="1.1"/></g>
<g fill="#bababa"><circle cx="333.0" cy="472.0" r="1.1"/><circle cx="333.2" cy="474.3" r="1.1"/><circle cx="330.6" cy="475.9" r="1.1"/><circle cx="332.9" cy="476.1" r="1.1"/><circle cx="335.8" cy="475.6" r="1.1"/><circle cx="329.3" cy="478.4" r="1.1"/><circle cx="331.7" cy="478.6" r="1.1"/><circle cx="334.3" cy="478.1" r="1.1"/><circle cx="337.2" cy="478.1" r="1.1"/><circle cx="323.5" cy="480.3" r="1.1"/><circle cx="326.0" cy="480.6" r="1.1"/><circle cx="329.1" cy="481.1" r="1.1"/><circle cx="331.8" cy="480.6" r="1.1"/><circle cx="334.4" cy="480.4" r="1.1"/><circle cx="337.1" cy="481.2" r="1.1"/><circle cx="339.6" cy="480.6" r="1.1"/><circle cx="342.7" cy="481.0" r="1.1"/><circle cx="320.3" cy="483.4" r="1.1"/><circle cx="322.7" cy="483.0" r="1.1"/><circle cx="325.7" cy="482.7" r="1.1"/><circle cx="327.6" cy="482.7" r="1.1"/><circle cx="330.3" cy="483.2" r="1.1"/><circle cx="333.0" cy="483.3" r="1.1"/><circle cx="336.1" cy="483.0" r="1.1"/><circle cx="337.8" cy="483.0" r="1.1"/><circle cx="341.7" cy="482.6" r="1.1"/><circle cx="342.9" cy="483.2" r="1.1"/><circle cx="345.6" cy="482.9" r="1.1"/><circle cx="320.4" cy="485.2" r="1.1"/><circle cx="322.4" cy="485.4" r="1.1"/><circle cx="324.0" cy="484.9" r="1.1"/><circle cx="325.8" cy="484.8" r="1.1"/><circle cx="327.7" cy="485.3" r="1.1"/><circle cx="330.4" cy="485.7" r="1.1"/><circle cx="332.2" cy="485.1" r="1.1"/><circle cx="334.0" cy="485.1" r="1.1"/><circle cx="336.3" cy="485.3" r="1.1"/><circle cx="337.9" cy="485.7" r="1.1"/><circle cx="340.3" cy="485.5" r="1.1"/><circle cx="341.9" cy="485.2" r="1.1"/><circle cx="343.8" cy="485.4" r="1.1"/><circle cx="345.8" cy="485.6" r="1.1"/><circle cx="320.0" cy="488.0" r="1.1"/><circle cx="321.8" cy="488.0" r="1.1"/><circle cx="324.5" cy="487.5" r="1.1"/><circle cx="326.1" cy="487.4" r="1.1"/><circle cx="328.2" cy="487.8" r="1.1"/><circle cx="329.4" cy="487.8" r="1.1"/><circle cx="331.4" cy="487.6" r="1.1"/><circle cx="333.2" cy="487.8" r="1.1"/><circle cx="334.5" cy="487.9" r="1.1"/><circle cx="336.8" cy="487.3" r="1.1"/><circle cx="339.2" cy="487.3" r="1.1"/><circle cx="340.3" cy="487.7" r="1.1"/><circle cx="343.0" cy="487.5" r="1.1"/><circle cx="344.6" cy="487.9" r="1.1"/><circle cx="346.4" cy="487.4" r="1.1"/><circle cx="320.3" cy="489.9" r="1.1"/><circle cx="321.9" cy="490.2" r="1.1"/><circle cx="324.0" cy="490.4" r="1.1"/><circle cx="325.6" cy="489.9" r="1.1"/><circle cx="327.1" cy="490.0" r="1.1"/><circle cx="329.9" cy="489.7" r="1.1"/><circle cx="331.4" cy="489.5" r="1.1"/><circle cx="333.1" cy="489.9" r="1.1"/><circle cx="335.4" cy="490.4" r="1.1"/><circle cx="337.0" cy="489.5" r="1.1"/><circle cx="338.8" cy="490.1" r="1.1"/><circle cx="340.6" cy="489.7" r="1.1"/><circle cx="342.3" cy="489.4" r="1.1"/><circle cx="344.3" cy="489.5" r="1.1"/><circle cx="346.4" cy="490.3" r="1.1"/><circle cx="319.5" cy="491.8" r="1.1"/><circle cx="322.3" cy="492.4" r="1.1"/><circle cx="324.3" cy="492.4" r="1.1"/><circle cx="326.7" cy="492.6" r="1.1"/><circle cx="328.8" cy="492.4" r="1.1"/><circle cx="331.3" cy="491.9" r="1.1"/><circle cx="332.9" cy="492.1" r="1.1"/><circle cx="335.6" cy="492.3" r="1.1"/><circle cx="337.4" cy="491.9" r="1.1"/><circle cx="339.3" cy="492.7" r="1.1"/><circle cx="341.6" cy="492.1" r="1.1"/><circle cx="344.7" cy="492.4" r="1.1"/><circle cx="345.7" cy="492.4" r="1.1"/><circle cx="322.1" cy="494.9" r="1.1"/><circle cx="325.3" cy="494.2" r="1.1"/><circle cx="327.6" cy="494.2" r="1.1"/><circle cx="330.6" cy="494.0" r="1.1"/><circle cx="333.2" cy="494.1" r="1.1"/><circle cx="336.0" cy="494.5" r="1.1"/><circle cx="338.6" cy="494.1" r="1.1"/><circle cx="340.9" cy="494.4" r="1.1"/><circle cx="344.2" cy="494.6" r="1.1"/><circle cx="325.3" cy="496.4" r="1.1"/><circle cx="327.4" cy="496.3" r="1.1"/><circle cx="330.5" cy="496.5" r="1.1"/><circle cx="332.9" cy="497.0" r="1.1"/><circle cx="335.9" cy="496.6" r="1.1"/><circle cx="338.5" cy="496.6" r="1.1"/><circle cx="341.2" cy="496.7" r="1.1"/><circle cx="329.0" cy="498.8" r="1.1"/><circle cx="331.6" cy="498.9" r="1.1"/><circle cx="334.1" cy="498.9" r="1.1"/><circle cx="337.2" cy="498.9" r="1.1"/></g>
<g fill="#1c1c84"><circle cx="375.6" cy="441.3" r="1.05"/><circle cx="375.1" cy="446.6" r="1.05"/><circle cx="375.4" cy="459.6" r="1.05"/><circle cx="375.1" cy="462.0" r="1.05"/><circle cx="372.5" cy="474.1" r="1.05"/><circle cx="375.4" cy="474.3" r="1.05"/><circle cx="378.1" cy="473.9" r="1.05"/><circle cx="365.8" cy="476.3" r="1.05"/><circle cx="368.5" cy="475.7" r="1.05"/><circle cx="371.2" cy="476.0" r="1.05"/><circle cx="374.0" cy="475.6" r="1.05"/><circle cx="376.3" cy="476.6" r="1.05"/><circle cx="379.3" cy="475.9" r="1.05"/><circle cx="381.8" cy="476.2" r="1.05"/><circle cx="385.0" cy="475.8" r="1.05"/><circle cx="362.3" cy="478.7" r="1.05"/><circle cx="364.6" cy="478.1" r="1.05"/><circle cx="367.2" cy="478.8" r="1.05"/><circle cx="369.4" cy="478.4" r="1.05"/><circle cx="373.1" cy="478.6" r="1.05"/><circle cx="375.7" cy="478.0" r="1.05"/><circle cx="377.7" cy="478.1" r="1.05"/><circle cx="379.6" cy="478.8" r="1.05"/><circle cx="382.5" cy="477.9" r="1.05"/><circle cx="386.1" cy="478.8" r="1.05"/><circle cx="387.5" cy="478.2" r="1.05"/><circle cx="361.6" cy="480.4" r="1.05"/><circle cx="363.6" cy="480.4" r="1.05"/><circle cx="365.4" cy="480.3" r="1.05"/><circle cx="367.2" cy="480.6" r="1.05"/><circle cx="368.2" cy="480.8" r="1.05"/><circle cx="370.0" cy="480.2" r="1.05"/><circle cx="372.4" cy="480.6" r="1.05"/><circle cx="374.2" cy="480.3" r="1.05"/><circle cx="375.5" cy="480.6" r="1.05"/><circle cx="377.6" cy="480.2" r="1.05"/><circle cx="378.2" cy="481.0" r="1.05"/><circle cx="380.6" cy="481.1" r="1.05"/><circle cx="381.5" cy="481.1" r="1.05"/><circle cx="383.1" cy="481.2" r="1.05"/><circle cx="385.7" cy="480.6" r="1.05"/><circle cx="387.3" cy="481.1" r="1.05"/><circle cx="388.8" cy="481.2" r="1.05"/><circle cx="362.7" cy="483.5" r="1.05"/><circle cx="363.5" cy="483.1" r="1.05"/><circle cx="365.4" cy="482.6" r="1.05"/><circle cx="366.7" cy="482.8" r="1.05"/><circle cx="368.1" cy="482.9" r="1.05"/><circle cx="370.8" cy="482.8" r="1.05"/><circle cx="371.6" cy="482.7" r="1.05"/><circle cx="372.9" cy="483.1" r="1.05"/><circle cx="373.8" cy="482.5" r="1.05"/><circle cx="375.5" cy="482.8" r="1.05"/><circle cx="378.1" cy="482.6" r="1.05"/><circle cx="379.0" cy="483.0" r="1.05"/><circle cx="381.2" cy="483.4" r="1.05"/><circle cx="381.9" cy="482.9" r="1.05"/><circle cx="383.9" cy="483.0" r="1.05"/><circle cx="385.0" cy="483.3" r="1.05"/><circle cx="386.7" cy="483.1" r="1.05"/><circle cx="387.5" cy="482.9" r="1.05"/><circle cx="362.4" cy="485.4" r="1.05"/><circle cx="364.4" cy="484.9" r="1.05"/><circle cx="364.4" cy="485.3" r="1.05"/><circle cx="367.1" cy="485.3" r="1.05"/><circle cx="368.2" cy="484.9" r="1.05"/><circle cx="369.1" cy="485.0" r="1.05"/><circle cx="370.2" cy="484.9" r="1.05"/><circle cx="372.0" cy="485.4" r="1.05"/><circle cx="373.9" cy="484.9" r="1.05"/><circle cx="375.7" cy="485.7" r="1.05"/><circle cx="376.9" cy="485.7" r="1.05"/><circle cx="378.9" cy="485.1" r="1.05"/><circle cx="380.0" cy="485.3" r="1.05"/><circle cx="380.7" cy="485.1" r="1.05"/><circle cx="382.6" cy="485.3" r="1.05"/><circle cx="383.2" cy="485.4" r="1.05"/><circle cx="386.1" cy="485.6" r="1.05"/><circle cx="386.7" cy="485.3" r="1.05"/><circle cx="388.4" cy="485.7" r="1.05"/><circle cx="362.2" cy="487.6" r="1.05"/><circle cx="364.8" cy="487.1" r="1.05"/><circle cx="365.7" cy="487.8" r="1.05"/><circle cx="367.6" cy="487.5" r="1.05"/><circle cx="370.7" cy="487.5" r="1.05"/><circle cx="372.0" cy="488.0" r="1.05"/><circle cx="373.5" cy="488.0" r="1.05"/><circle cx="375.8" cy="487.2" r="1.05"/><circle cx="378.9" cy="487.2" r="1.05"/><circle cx="380.1" cy="487.5" r="1.05"/><circle cx="381.8" cy="488.0" r="1.05"/><circle cx="383.8" cy="487.9" r="1.05"/><circle cx="385.5" cy="487.8" r="1.05"/><circle cx="388.8" cy="487.9" r="1.05"/><circle cx="362.9" cy="489.4" r="1.05"/><circle cx="365.9" cy="489.9" r="1.05"/><circle cx="368.4" cy="490.3" r="1.05"/><circle cx="371.0" cy="490.0" r="1.05"/><circle cx="373.7" cy="490.3" r="1.05"/><circle cx="377.0" cy="490.0" r="1.05"/><circle cx="379.2" cy="490.1" r="1.05"/><circle cx="382.3" cy="490.2" r="1.05"/><circle cx="384.4" cy="489.9" r="1.05"/><circle cx="387.2" cy="489.9" r="1.05"/><circle cx="368.9" cy="492.6" r="1.05"/><circle cx="371.1" cy="492.3" r="1.05"/><circle cx="373.8" cy="491.9" r="1.05"/><circle cx="376.8" cy="492.5" r="1.05"/><circle cx="379.2" cy="492.1" r="1.05"/><circle cx="382.2" cy="492.4" r="1.05"/><circle cx="372.6" cy="494.1" r="1.05"/><circle cx="375.0" cy="494.2" r="1.05"/><circle cx="378.2" cy="494.5" r="1.05"/><circle cx="375.4" cy="496.7" r="1.05"/></g>
<g fill="#2f9a2f"><circle cx="417.6" cy="408.7" r="1.0"/><circle cx="414.8" cy="410.5" r="1.0"/><circle cx="417.8" cy="410.5" r="1.0"/><circle cx="420.7" cy="410.4" r="1.0"/><circle cx="414.4" cy="413.3" r="1.0"/><circle cx="417.7" cy="413.6" r="1.0"/><circle cx="420.3" cy="413.8" r="1.0"/><circle cx="417.8" cy="416.0" r="1.0"/><circle cx="414.2" cy="418.4" r="1.0"/><circle cx="417.4" cy="418.5" r="1.0"/><circle cx="420.8" cy="418.7" r="1.0"/><circle cx="416.2" cy="420.8" r="1.0"/><circle cx="418.8" cy="421.4" r="1.0"/><circle cx="414.4" cy="423.5" r="1.0"/><circle cx="417.2" cy="423.4" r="1.0"/><circle cx="420.4" cy="423.8" r="1.0"/><circle cx="414.4" cy="426.5" r="1.0"/><circle cx="417.4" cy="425.9" r="1.0"/><circle cx="420.6" cy="426.2" r="1.0"/><circle cx="414.5" cy="428.9" r="1.0"/><circle cx="417.3" cy="428.6" r="1.0"/><circle cx="420.4" cy="428.8" r="1.0"/><circle cx="411.2" cy="431.1" r="1.0"/><circle cx="414.5" cy="431.1" r="1.0"/><circle cx="417.8" cy="431.5" r="1.0"/><circle cx="420.5" cy="431.6" r="1.0"/><circle cx="423.2" cy="431.2" r="1.0"/><circle cx="410.2" cy="434.3" r="1.0"/><circle cx="413.0" cy="434.0" r="1.0"/><circle cx="416.2" cy="434.2" r="1.0"/><circle cx="419.2" cy="434.5" r="1.0"/><circle cx="422.3" cy="434.4" r="1.0"/><circle cx="425.1" cy="434.2" r="1.0"/><circle cx="411.5" cy="436.9" r="1.0"/><circle cx="414.5" cy="437.1" r="1.0"/><circle cx="417.8" cy="436.4" r="1.0"/><circle cx="420.7" cy="436.9" r="1.0"/><circle cx="423.6" cy="437.2" r="1.0"/><circle cx="409.7" cy="439.4" r="1.0"/><circle cx="412.9" cy="439.8" r="1.0"/><circle cx="415.8" cy="439.5" r="1.0"/><circle cx="418.8" cy="439.7" r="1.0"/><circle cx="422.0" cy="439.6" r="1.0"/><circle cx="424.9" cy="439.8" r="1.0"/><circle cx="411.2" cy="441.7" r="1.0"/><circle cx="414.7" cy="442.4" r="1.0"/><circle cx="417.7" cy="441.8" r="1.0"/><circle cx="420.2" cy="442.2" r="1.0"/><circle cx="423.7" cy="441.6" r="1.0"/><circle cx="411.8" cy="444.6" r="1.0"/><circle cx="414.2" cy="444.6" r="1.0"/><circle cx="417.4" cy="444.2" r="1.0"/><circle cx="420.8" cy="445.0" r="1.0"/><circle cx="423.2" cy="444.5" r="1.0"/><circle cx="411.3" cy="447.4" r="1.0"/><circle cx="414.2" cy="447.0" r="1.0"/><circle cx="417.4" cy="447.2" r="1.0"/><circle cx="420.5" cy="447.3" r="1.0"/><circle cx="423.8" cy="447.6" r="1.0"/><circle cx="410.3" cy="450.1" r="1.0"/><circle cx="412.8" cy="449.5" r="1.0"/><circle cx="416.0" cy="449.9" r="1.0"/><circle cx="419.1" cy="449.6" r="1.0"/><circle cx="422.3" cy="449.6" r="1.0"/><circle cx="424.7" cy="449.4" r="1.0"/><circle cx="411.3" cy="452.6" r="1.0"/><circle cx="414.7" cy="451.9" r="1.0"/><circle cx="417.3" cy="452.1" r="1.0"/><circle cx="420.7" cy="452.8" r="1.0"/><circle cx="423.3" cy="452.0" r="1.0"/><circle cx="411.8" cy="455.5" r="1.0"/><circle cx="414.7" cy="455.0" r="1.0"/><circle cx="417.7" cy="455.3" r="1.0"/><circle cx="420.5" cy="454.8" r="1.0"/><circle cx="423.5" cy="455.2" r="1.0"/><circle cx="409.9" cy="457.7" r="1.0"/><circle cx="412.8" cy="458.1" r="1.0"/><circle cx="415.8" cy="457.3" r="1.0"/><circle cx="419.3" cy="458.1" r="1.0"/><circle cx="422.3" cy="457.9" r="1.0"/><circle cx="425.2" cy="457.9" r="1.0"/><circle cx="411.5" cy="459.8" r="1.0"/><circle cx="414.7" cy="460.5" r="1.0"/><circle cx="417.7" cy="459.7" r="1.0"/><circle cx="420.2" cy="460.4" r="1.0"/><circle cx="423.5" cy="460.6" r="1.0"/><circle cx="411.8" cy="462.7" r="1.0"/><circle cx="414.6" cy="463.0" r="1.0"/><circle cx="417.6" cy="462.7" r="1.0"/><circle cx="420.6" cy="462.4" r="1.0"/><circle cx="423.8" cy="463.0" r="1.0"/><circle cx="408.7" cy="465.4" r="1.0"/><circle cx="411.3" cy="465.4" r="1.0"/><circle cx="414.6" cy="465.4" r="1.0"/><circle cx="417.2" cy="464.9" r="1.0"/><circle cx="420.4" cy="465.1" r="1.0"/><circle cx="423.3" cy="465.1" r="1.0"/><circle cx="426.4" cy="465.6" r="1.0"/><circle cx="405.8" cy="468.2" r="1.0"/><circle cx="408.2" cy="468.4" r="1.0"/><circle cx="411.6" cy="468.2" r="1.0"/><circle cx="414.6" cy="467.9" r="1.0"/><circle cx="417.4" cy="467.6" r="1.0"/><circle cx="420.6" cy="467.6" r="1.0"/><circle cx="423.6" cy="468.4" r="1.0"/><circle cx="426.6" cy="468.1" r="1.0"/><circle cx="429.7" cy="468.5" r="1.0"/><circle cx="410.2" cy="471.1" r="1.0"/><circle cx="413.0" cy="470.1" r="1.0"/><circle cx="416.1" cy="470.7" r="1.0"/><circle cx="419.3" cy="470.7" r="1.0"/><circle cx="421.9" cy="470.1" r="1.0"/><circle cx="425.2" cy="470.7" r="1.0"/><circle cx="407.3" cy="473.3" r="1.0"/><circle cx="410.2" cy="473.5" r="1.0"/><circle cx="413.3" cy="473.2" r="1.0"/><circle cx="416.3" cy="473.1" r="1.0"/><circle cx="418.7" cy="473.0" r="1.0"/><circle cx="421.9" cy="473.7" r="1.0"/><circle cx="424.9" cy="473.0" r="1.0"/><circle cx="428.1" cy="472.8" r="1.0"/><circle cx="404.2" cy="475.4" r="1.0"/><circle cx="406.8" cy="476.1" r="1.0"/><circle cx="409.7" cy="475.5" r="1.0"/><circle cx="411.3" cy="475.3" r="1.0"/><circle cx="414.3" cy="475.6" r="1.0"/><circle cx="416.3" cy="475.6" r="1.0"/><circle cx="418.2" cy="475.6" r="1.0"/><circle cx="421.3" cy="476.1" r="1.0"/><circle cx="423.7" cy="476.2" r="1.0"/><circle cx="425.4" cy="475.4" r="1.0"/><circle cx="428.7" cy="476.3" r="1.0"/><circle cx="430.3" cy="475.9" r="1.0"/><circle cx="404.7" cy="478.0" r="1.0"/><circle cx="407.4" cy="478.2" r="1.0"/><circle cx="409.9" cy="478.0" r="1.0"/><circle cx="412.1" cy="478.1" r="1.0"/><circle cx="414.9" cy="478.2" r="1.0"/><circle cx="418.1" cy="478.9" r="1.0"/><circle cx="420.9" cy="478.2" r="1.0"/><circle cx="422.4" cy="478.5" r="1.0"/><circle cx="424.5" cy="478.8" r="1.0"/><circle cx="427.9" cy="478.4" r="1.0"/><circle cx="430.5" cy="478.0" r="1.0"/><circle cx="405.2" cy="481.0" r="1.0"/><circle cx="405.9" cy="481.2" r="1.0"/><circle cx="408.2" cy="481.4" r="1.0"/><circle cx="410.2" cy="481.2" r="1.0"/><circle cx="412.4" cy="481.3" r="1.0"/><circle cx="414.5" cy="481.0" r="1.0"/><circle cx="416.1" cy="481.4" r="1.0"/><circle cx="418.7" cy="480.9" r="1.0"/><circle cx="419.7" cy="481.5" r="1.0"/><circle cx="423.3" cy="481.1" r="1.0"/><circle cx="423.8" cy="480.5" r="1.0"/><circle cx="426.7" cy="481.5" r="1.0"/><circle cx="428.0" cy="480.7" r="1.0"/><circle cx="429.7" cy="481.0" r="1.0"/><circle cx="404.3" cy="484.1" r="1.0"/><circle cx="406.9" cy="483.6" r="1.0"/><circle cx="408.0" cy="483.7" r="1.0"/><circle cx="410.7" cy="483.8" r="1.0"/><circle cx="413.2" cy="483.9" r="1.0"/><circle cx="415.2" cy="483.3" r="1.0"/><circle cx="418.3" cy="484.0" r="1.0"/><circle cx="419.2" cy="483.5" r="1.0"/><circle cx="421.6" cy="483.4" r="1.0"/><circle cx="424.1" cy="483.5" r="1.0"/><circle cx="425.7" cy="483.3" r="1.0"/><circle cx="428.4" cy="483.8" r="1.0"/><circle cx="430.3" cy="483.2" r="1.0"/><circle cx="404.8" cy="486.0" r="1.0"/><circle cx="407.3" cy="486.1" r="1.0"/><circle cx="409.9" cy="486.3" r="1.0"/><circle cx="413.5" cy="486.6" r="1.0"/><circle cx="415.9" cy="485.9" r="1.0"/><circle cx="418.7" cy="486.3" r="1.0"/><circle cx="421.8" cy="486.1" r="1.0"/><circle cx="424.0" cy="486.6" r="1.0"/><circle cx="428.3" cy="486.1" r="1.0"/><circle cx="430.4" cy="486.4" r="1.0"/><circle cx="408.8" cy="488.5" r="1.0"/><circle cx="411.2" cy="488.4" r="1.0"/><circle cx="414.2" cy="489.1" r="1.0"/><circle cx="417.6" cy="488.8" r="1.0"/><circle cx="420.2" cy="488.9" r="1.0"/><circle cx="423.2" cy="488.4" r="1.0"/><circle cx="426.6" cy="488.9" r="1.0"/><circle cx="411.7" cy="491.7" r="1.0"/><circle cx="414.2" cy="491.2" r="1.0"/><circle cx="417.3" cy="491.4" r="1.0"/><circle cx="420.2" cy="491.8" r="1.0"/><circle cx="423.6" cy="491.7" r="1.0"/><circle cx="413.0" cy="494.4" r="1.0"/><circle cx="416.2" cy="494.3" r="1.0"/><circle cx="419.2" cy="493.7" r="1.0"/><circle cx="421.9" cy="493.6" r="1.0"/><circle cx="414.7" cy="496.6" r="1.0"/><circle cx="417.8" cy="496.4" r="1.0"/><circle cx="420.5" cy="497.0" r="1.0"/></g>
<g fill="#2f9a2f"><circle cx="406.5" cy="343.2" r="1.05"/><circle cx="407.8" cy="346.0" r="1.05"/><circle cx="409.2" cy="343.2" r="1.05"/><circle cx="410.6" cy="346.0" r="1.05"/><circle cx="412.0" cy="343.2" r="1.05"/><circle cx="413.3" cy="346.0" r="1.05"/><circle cx="414.8" cy="343.2" r="1.05"/><circle cx="416.1" cy="346.0" r="1.05"/><circle cx="417.5" cy="343.2" r="1.05"/><circle cx="418.8" cy="346.0" r="1.05"/><circle cx="420.2" cy="343.2" r="1.05"/><circle cx="421.6" cy="346.0" r="1.05"/><circle cx="423.0" cy="343.2" r="1.05"/><circle cx="424.3" cy="346.0" r="1.05"/><circle cx="425.8" cy="343.2" r="1.05"/><circle cx="427.1" cy="346.0" r="1.05"/><circle cx="428.5" cy="343.2" r="1.05"/><circle cx="429.8" cy="346.0" r="1.05"/><circle cx="417.5" cy="332.5" r="1.05"/><circle cx="417.5" cy="335.5" r="1.05"/><circle cx="417.5" cy="338.5" r="1.05"/><circle cx="417.5" cy="341" r="1.05"/></g>
<line x1="410" y1="346.6" x2="425.6" y2="346.6" stroke="#000" stroke-width="1.8"/>
<line x1="108.3" y1="471.3" x2="108.3" y2="462.2" stroke="#000" stroke-width="2"/>
<line x1="100.55" y1="462.2" x2="116.05" y2="462.2" stroke="#000" stroke-width="2.3"/>
<line x1="192.1" y1="453.2" x2="192.1" y2="435.8" stroke="#000" stroke-width="2"/>
<line x1="184.35" y1="435.8" x2="199.85" y2="435.8" stroke="#000" stroke-width="2.3"/>
<line x1="234.2" y1="421.2" x2="234.2" y2="363.3" stroke="#000" stroke-width="2"/>
<line x1="226.45" y1="363.3" x2="241.95" y2="363.3" stroke="#000" stroke-width="2.3"/>
<line x1="291.0" y1="495.3" x2="291.0" y2="479.8" stroke="#000" stroke-width="2"/>
<line x1="283.25" y1="479.8" x2="298.75" y2="479.8" stroke="#000" stroke-width="2.3"/>
<line x1="375.3" y1="482.6" x2="375.3" y2="472.6" stroke="#000" stroke-width="2"/>
<line x1="367.55" y1="472.6" x2="383.05" y2="472.6" stroke="#000" stroke-width="2.3"/>
<line x1="417.5" y1="422.3" x2="417.5" y2="362.5" stroke="#000" stroke-width="1.8"/>
<circle cx="417.5" cy="364.6" r="1.3" fill="#1e5a1e"/>
<line x1="80.5" y1="362" x2="80.5" y2="517" stroke="#000" stroke-width="2"/>
<line x1="76.3" y1="362" x2="85" y2="362" stroke="#000" stroke-width="2"/>
<line x1="80.5" y1="330" x2="80.5" y2="348.3" stroke="#000" stroke-width="2"/>
<line x1="76.3" y1="348.3" x2="85" y2="348.3" stroke="#000" stroke-width="2"/>
<line x1="73" y1="330.8" x2="80.5" y2="330.8" stroke="#000" stroke-width="2"/>
<line x1="76.5" y1="336.6" x2="80.5" y2="336.6" stroke="#000" stroke-width="1.8"/>
<line x1="76.5" y1="342.4" x2="80.5" y2="342.4" stroke="#000" stroke-width="1.8"/>
<text x="70.2" y="334.8" font-size="11" font-weight="bold" text-anchor="end">20.0</text>
<text x="70.2" y="352.2" font-size="11" font-weight="bold" text-anchor="end">5.0</text>
<line x1="72" y1="515.7" x2="80.5" y2="515.7" stroke="#000" stroke-width="2"/>
<text x="70.2" y="519.6" font-size="11" font-weight="bold" text-anchor="end">0.0</text>
<line x1="72" y1="480.0" x2="80.5" y2="480.0" stroke="#000" stroke-width="2"/>
<text x="70.2" y="483.9" font-size="11" font-weight="bold" text-anchor="end">1.0</text>
<line x1="72" y1="444.2" x2="80.5" y2="444.2" stroke="#000" stroke-width="2"/>
<text x="70.2" y="448.1" font-size="11" font-weight="bold" text-anchor="end">2.0</text>
<line x1="72" y1="408.5" x2="80.5" y2="408.5" stroke="#000" stroke-width="2"/>
<text x="70.2" y="412.4" font-size="11" font-weight="bold" text-anchor="end">3.0</text>
<line x1="72" y1="372.7" x2="80.5" y2="372.7" stroke="#000" stroke-width="2"/>
<text x="70.2" y="376.6" font-size="11" font-weight="bold" text-anchor="end">4.0</text>
<text transform="translate(39.0,423.4) rotate(-90)" font-size="12.2" font-weight="bold" text-anchor="middle" textLength="125.6" lengthAdjust="spacingAndGlyphs">FVIII:C/VWF:Ag ratio</text>
<line x1="79.5" y1="516" x2="446.5" y2="516" stroke="#000" stroke-width="2.2"/>
<line x1="108.3" y1="516" x2="108.3" y2="522.8" stroke="#000" stroke-width="2"/>
<line x1="150.0" y1="516" x2="150.0" y2="522.8" stroke="#000" stroke-width="2"/>
<line x1="192.1" y1="516" x2="192.1" y2="522.8" stroke="#000" stroke-width="2"/>
<line x1="234.2" y1="516" x2="234.2" y2="522.8" stroke="#000" stroke-width="2"/>
<line x1="291.0" y1="516" x2="291.0" y2="522.8" stroke="#000" stroke-width="2"/>
<line x1="333.1" y1="516" x2="333.1" y2="522.8" stroke="#000" stroke-width="2"/>
<line x1="375.3" y1="516" x2="375.3" y2="522.8" stroke="#000" stroke-width="2"/>
<line x1="417.5" y1="516" x2="417.5" y2="522.8" stroke="#000" stroke-width="2"/>
<line x1="445.5" y1="362" x2="445.5" y2="517" stroke="#000" stroke-width="2"/>
<line x1="441" y1="362" x2="450" y2="362" stroke="#000" stroke-width="2"/>
<line x1="445.5" y1="330.5" x2="445.5" y2="348.3" stroke="#000" stroke-width="2"/>
<line x1="441" y1="348.3" x2="450" y2="348.3" stroke="#000" stroke-width="2"/>
<line x1="445.5" y1="331.3" x2="451" y2="331.3" stroke="#000" stroke-width="2"/>
<line x1="445.5" y1="340.2" x2="449" y2="340.2" stroke="#000" stroke-width="1.8"/>
<text x="455.2" y="334.6" font-size="10.8" font-weight="bold">50</text>
<text x="455.2" y="352" font-size="10.8" font-weight="bold">10</text>
<line x1="445.5" y1="515.1" x2="452.5" y2="515.1" stroke="#000" stroke-width="2"/>
<text x="457.4" y="519.0" font-size="10.8" font-weight="bold">0</text>
<line x1="445.5" y1="484.5" x2="452.5" y2="484.5" stroke="#000" stroke-width="2"/>
<text x="457.4" y="488.4" font-size="10.8" font-weight="bold">2</text>
<line x1="445.5" y1="453.8" x2="452.5" y2="453.8" stroke="#000" stroke-width="2"/>
<text x="457.4" y="457.7" font-size="10.8" font-weight="bold">4</text>
<line x1="445.5" y1="423.2" x2="452.5" y2="423.2" stroke="#000" stroke-width="2"/>
<text x="457.4" y="427.1" font-size="10.8" font-weight="bold">6</text>
<line x1="445.5" y1="392.5" x2="452.5" y2="392.5" stroke="#000" stroke-width="2"/>
<text x="457.4" y="396.4" font-size="10.8" font-weight="bold">8</text>
<line x1="445.5" y1="361.9" x2="452.5" y2="361.9" stroke="#000" stroke-width="2"/>
<text x="457.4" y="365.8" font-size="10.8" font-weight="bold">10</text>
<text transform="translate(482.2,423.7) rotate(90)" font-size="12.4" font-weight="bold" text-anchor="middle" textLength="130" lengthAdjust="spacingAndGlyphs">VWFpp/VWF:Ag ratio</text>
<path d="M108.4 302.7V313.3M108.4 308H234.5M234.5 302.7V313.3" stroke="#000" stroke-width="2" fill="none"/>
<text x="160.9" y="304.7" font-size="15" text-anchor="middle" stroke="#000" stroke-width="0.35">*</text>
<text x="170.8" y="304.7" font-size="15" text-anchor="middle" stroke="#000" stroke-width="0.35">*</text>
<text x="180.6" y="304.7" font-size="15" text-anchor="middle" stroke="#000" stroke-width="0.35">*</text>
<path d="M108.4 319.7V330.3M108.4 325H149.6M149.6 319.7V330.3" stroke="#000" stroke-width="2" fill="none"/>
<text x="128.8" y="317.4" font-size="10.4" text-anchor="middle">ns</text>
<path d="M191.7 319.7V330.3M191.7 325H234.5M234.5 319.7V330.3" stroke="#000" stroke-width="2" fill="none"/>
<text x="201.9" y="321.8" font-size="15" text-anchor="middle" stroke="#000" stroke-width="0.35">*</text>
<text x="212.1" y="321.8" font-size="15" text-anchor="middle" stroke="#000" stroke-width="0.35">*</text>
<text x="222.5" y="321.8" font-size="15" text-anchor="middle" stroke="#000" stroke-width="0.35">*</text>
<path d="M291 303.3V313.90000000000003M291 308.6H417.4M417.4 303.3V313.90000000000003" stroke="#000" stroke-width="2" fill="none"/>
<text x="343" y="306.2" font-size="15" text-anchor="middle" stroke="#000" stroke-width="0.35">*</text>
<text x="353" y="306.2" font-size="15" text-anchor="middle" stroke="#000" stroke-width="0.35">*</text>
<text x="363" y="306.2" font-size="15" text-anchor="middle" stroke="#000" stroke-width="0.35">*</text>
<path d="M291 320.2V330.8M291 325.5H333M333 320.2V330.8" stroke="#000" stroke-width="2" fill="none"/>
<text x="312" y="317.8" font-size="10.4" text-anchor="middle">ns</text>
<path d="M374.6 320.2V330.8M374.6 325.5H417.4M417.4 320.2V330.8" stroke="#000" stroke-width="2" fill="none"/>
<text x="385.3" y="323.5" font-size="15" text-anchor="middle" stroke="#000" stroke-width="0.35">*</text>
<text x="395.4" y="323.5" font-size="15" text-anchor="middle" stroke="#000" stroke-width="0.35">*</text>
<text x="404.9" y="323.5" font-size="15" text-anchor="middle" stroke="#000" stroke-width="0.35">*</text>
<text transform="translate(110.3,538.0) rotate(-20)" font-size="12.7" font-weight="bold" text-anchor="end">LoVIC</text>
<text transform="translate(152.0,538.0) rotate(-20)" font-size="12.7" font-weight="bold" text-anchor="end">WiN normalized</text>
<text transform="translate(194.1,538.0) rotate(-20)" font-size="12.7" font-weight="bold" text-anchor="end">WiN partially corrected</text>
<text transform="translate(236.2,538.0) rotate(-20)" font-size="12.7" font-weight="bold" text-anchor="end">WiN persistent &lt; 30 IU/dL</text>
<text transform="translate(293.0,538.0) rotate(-20)" font-size="12.7" font-weight="bold" text-anchor="end">LoVIC</text>
<text transform="translate(335.1,538.0) rotate(-20)" font-size="12.7" font-weight="bold" text-anchor="end">WiN normalized</text>
<text transform="translate(377.3,538.0) rotate(-20)" font-size="12.7" font-weight="bold" text-anchor="end">WiN partially corrected</text>
<text transform="translate(419.5,538.0) rotate(-20)" font-size="12.7" font-weight="bold" text-anchor="end">WiN persistent &lt; 30 IU/dL</text>
</svg></body></html>
